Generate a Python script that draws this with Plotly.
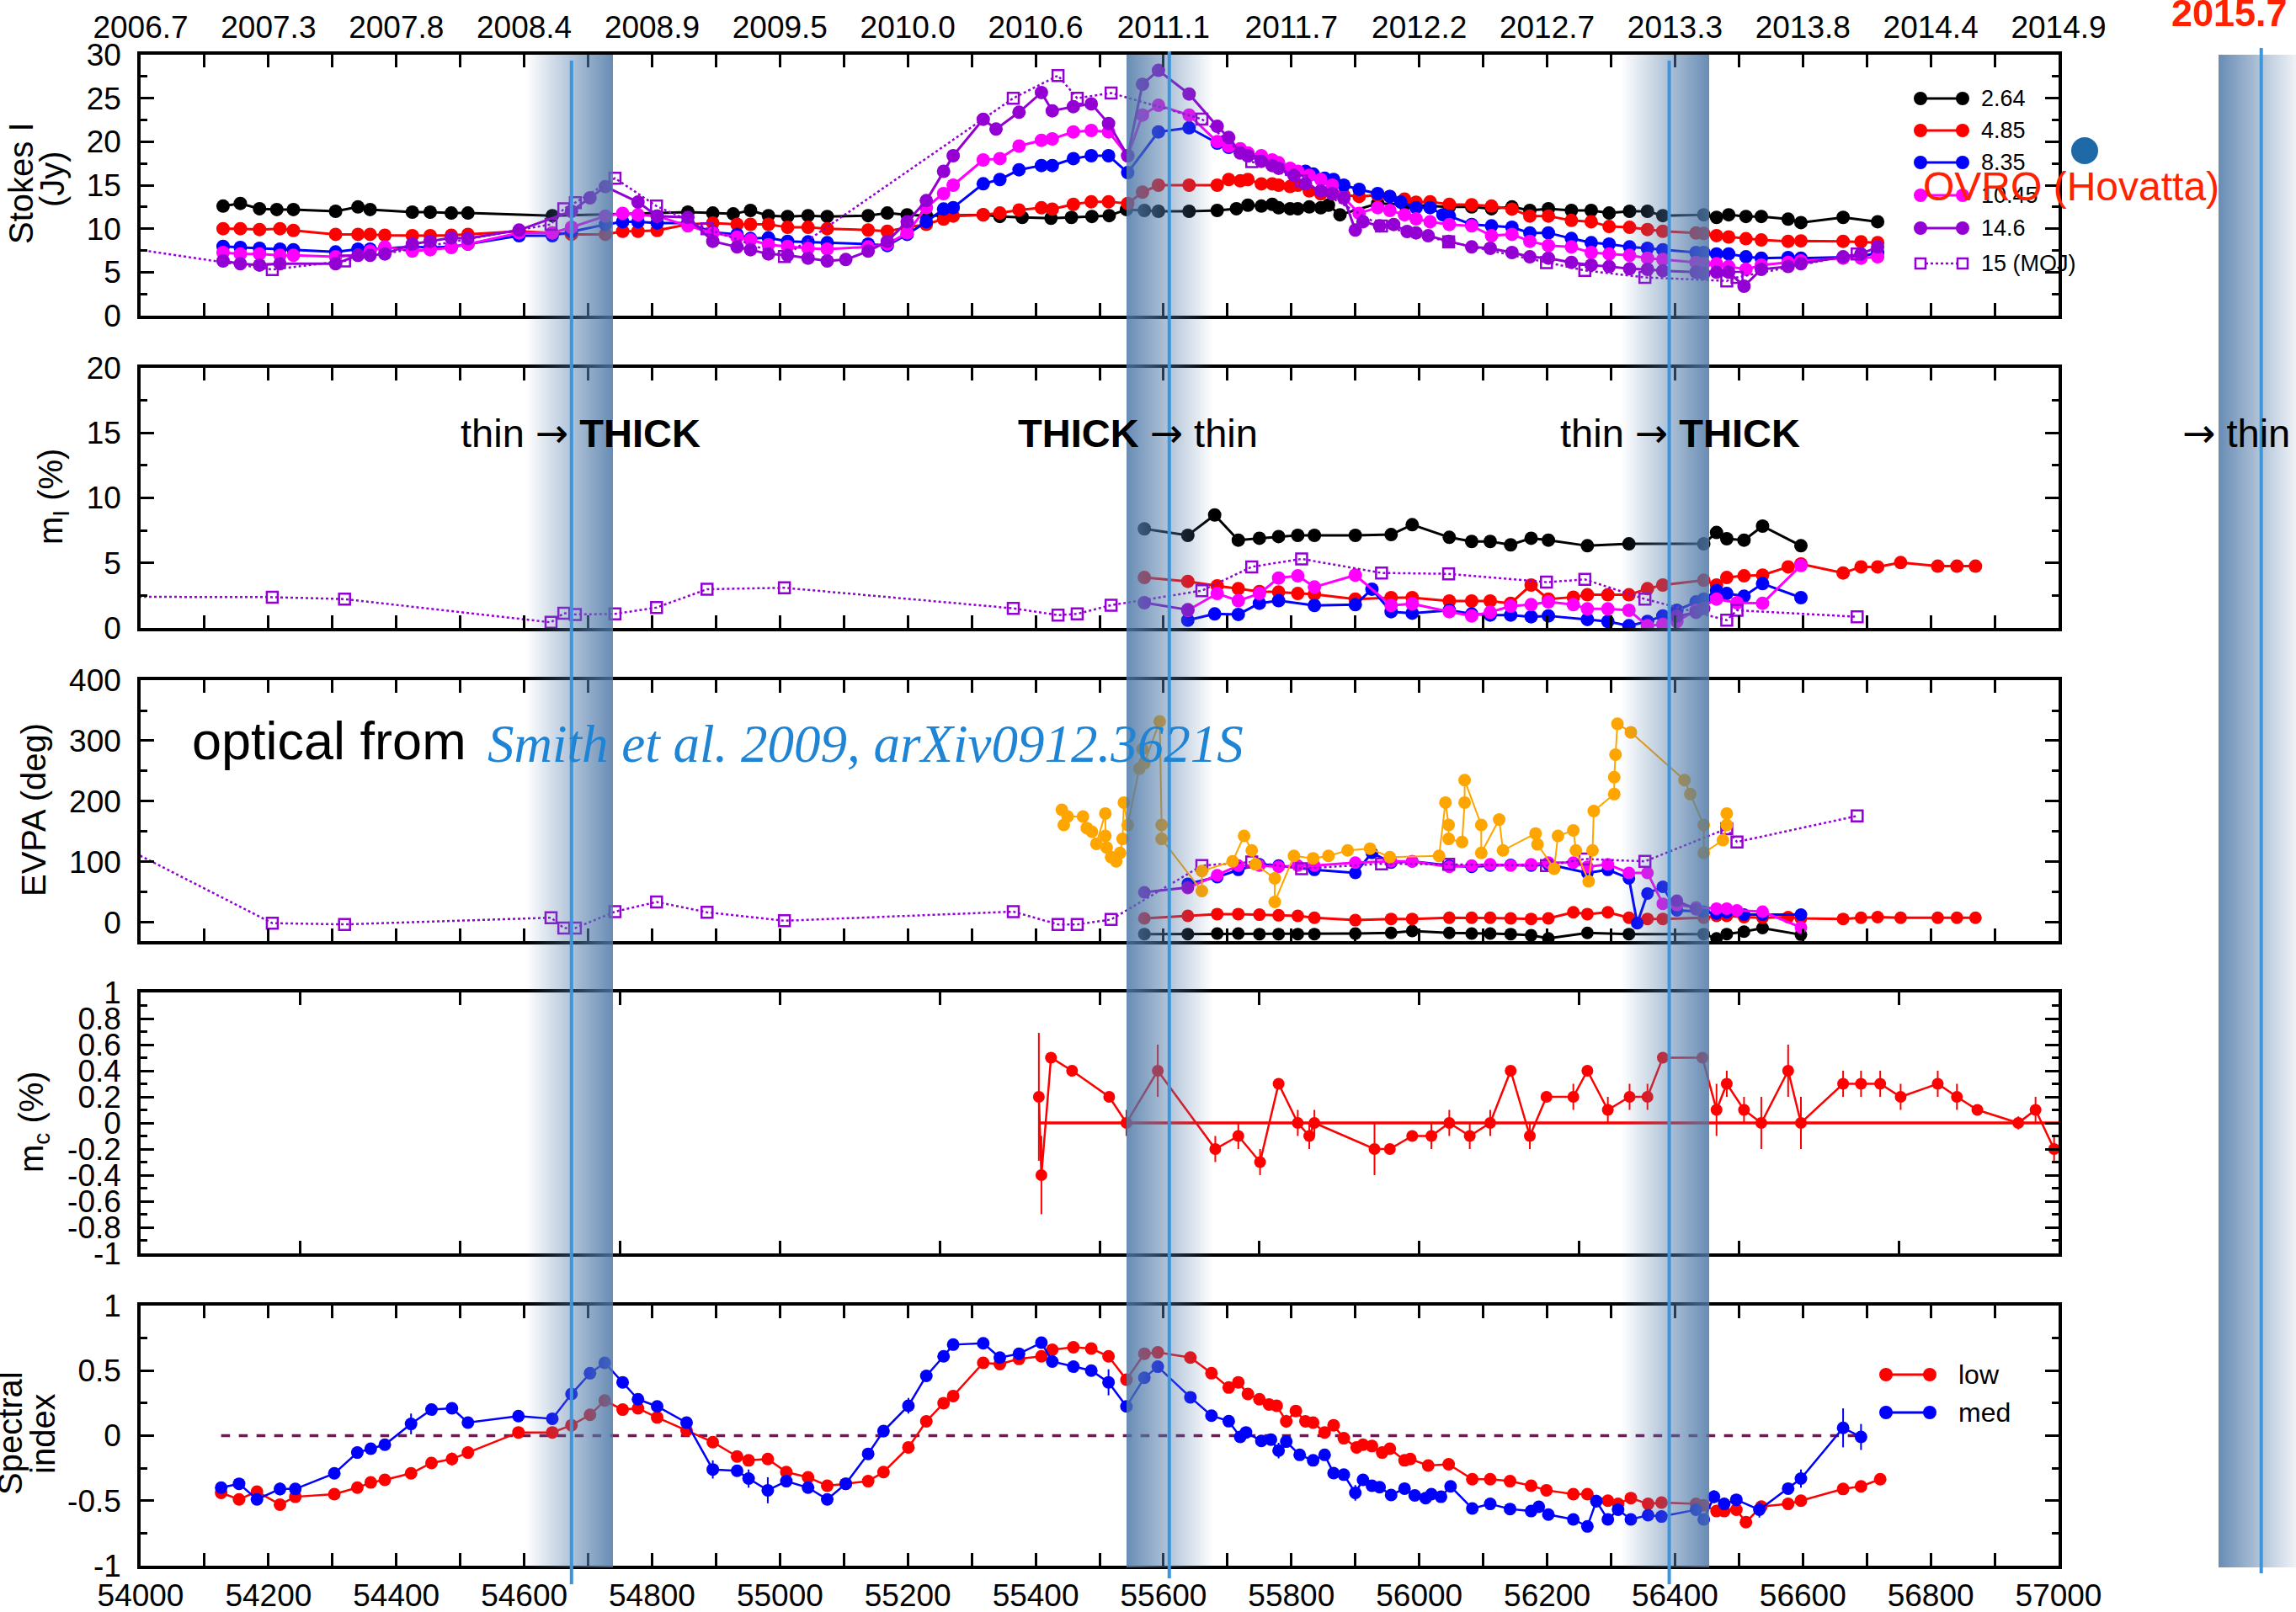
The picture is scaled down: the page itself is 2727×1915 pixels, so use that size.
import plotly.graph_objects as go

W, H = 2727, 1915
FONT = "Liberation Sans, Arial, Helvetica, sans-serif"

# ---------------- data ----------------
TOP_TICK_MJD = list(range(54000, 57001, 200))
TOP_TICK_YEARS = ["2006.7", "2007.3", "2007.8", "2008.4", "2008.9", "2009.5", "2010.0", "2010.6",
                  "2011.1", "2011.7", "2012.2", "2012.7", "2013.3", "2013.8", "2014.4", "2014.9"]
BOTTOM_TICK_LABELS = ["54000", "54200", "54400", "54600", "54800", "55000", "55200", "55400",
                      "55600", "55800", "56000", "56200", "56400", "56600", "56800", "57000"]
MC_TICK_MJD = list(range(54000, 57001, 250))

I_TICKS = [0, 5, 10, 15, 20, 25, 30]
M_TICKS = [0, 5, 10, 15, 20]
EVPA_TICKS = [0, 100, 200, 300, 400]
MC_TICKS = [-1, -0.8, -0.6, -0.4, -0.2, 0, 0.2, 0.4, 0.6, 0.8, 1]
MC_TICK_TEXT = ["-1", "-0.8", "-0.6", "-0.4", "-0.2", "0", "0.2", "0.4", "0.6", "0.8", "1"]
SI_TICKS = [-1, -0.5, 0, 0.5, 1]
SI_TICK_TEXT = ["-1", "-0.5", "0", "0.5", "1"]

# state-change epochs (MJD): band start, band end, dark side ; and marker lines
BANDS = [(54603, 54739, "right"), (55542, 55678, "left"), (56316, 56453, "right"), (57250, 57386, "left")]
BAND_LINES = [54674, 55609, 56391, 57317]

# Stokes I (Jy)
I_264 = [(54129, 12.6), (54156, 12.9), (54186, 12.3), (54213, 12.2), (54239, 12.2), (54305, 12.0), (54340, 12.5),
         (54359, 12.2), (54425, 11.9), (54453, 11.9), (54486, 11.8), (54512, 11.8), (54644, 11.5), (54856, 11.9),
         (54895, 11.8), (54927, 11.7), (54954, 12.1), (54982, 11.5), (55012, 11.4), (55044, 11.5), (55074, 11.4),
         (55138, 11.5), (55168, 11.8), (55199, 11.6), (55229, 11.5), (55256, 11.5), (55318, 11.6), (55344, 11.4),
         (55379, 11.3), (55424, 11.2), (55456, 11.3), (55488, 11.4), (55515, 11.5), (55542, 12.2), (55570, 12.1),
         (55592, 12.0), (55640, 12.0), (55684, 12.1), (55714, 12.3), (55732, 12.7), (55753, 12.6), (55770, 12.8),
         (55780, 12.4), (55798, 12.3), (55810, 12.3), (55828, 12.5), (55846, 12.4), (55858, 12.7), (55876, 11.6),
         (55935, 12.9), (55977, 12.8), (56017, 12.6), (56047, 12.5), (56082, 12.5), (56113, 12.3), (56145, 12.5),
         (56173, 12.1), (56202, 12.3), (56238, 12.1), (56269, 12.1), (56297, 11.8), (56329, 12.0), (56357, 12.0),
         (56381, 11.5), (56445, 11.6), (56465, 11.3), (56484, 11.6), (56511, 11.4), (56535, 11.4), (56577, 11.1),
         (56597, 10.7), (56663, 11.3), (56717, 10.8)]
I_485 = [(54129, 10.0), (54156, 10.0), (54186, 9.9), (54218, 10.0), (54239, 9.8), (54305, 9.35), (54340, 9.35),
         (54359, 9.35), (54382, 9.25), (54425, 9.2), (54453, 9.2), (54486, 9.25), (54512, 9.35), (54592, 9.7),
         (54644, 9.5), (54674, 9.35), (54727, 9.35), (54754, 9.7), (54778, 9.7), (54808, 9.8), (54856, 10.5),
         (54895, 10.65), (54933, 10.5), (54954, 10.5), (54982, 10.5), (55012, 10.15), (55044, 10.15), (55074, 10.0),
         (55138, 9.85), (55168, 9.7), (55199, 10.15), (55229, 10.5), (55256, 11.1), (55271, 11.45), (55318, 11.6),
         (55344, 11.8), (55374, 12.15), (55409, 12.4), (55426, 12.25), (55459, 12.8), (55487, 13.1), (55514, 13.1),
         (55544, 12.9), (55567, 14.2), (55592, 15.0), (55640, 15.0), (55684, 15.0), (55702, 15.65), (55720, 15.5),
         (55732, 15.65), (55753, 15.15), (55770, 15.15), (55780, 15.0), (55798, 14.85), (55810, 15.0), (55828, 14.35),
         (55846, 14.0), (55864, 14.0), (55882, 13.85), (55906, 13.7), (55935, 13.85), (55954, 13.7), (55977, 13.4),
         (55995, 13.05), (56017, 13.1), (56047, 12.8), (56082, 12.75), (56113, 12.6), (56145, 12.25), (56173, 11.45),
         (56202, 11.45), (56238, 10.95), (56269, 10.8), (56297, 10.25), (56329, 10.15), (56357, 9.9), (56381, 9.7),
         (56433, 9.5), (56445, 9.45), (56465, 9.2), (56484, 9.05), (56511, 8.85), (56535, 8.7), (56577, 8.55),
         (56597, 8.6), (56663, 8.55), (56691, 8.5), (56717, 8.4)]
I_835 = [(54129, 7.97), (54156, 7.84), (54186, 7.74), (54218, 7.65), (54239, 7.58), (54305, 7.32), (54340, 7.65),
         (54359, 7.65), (54382, 7.74), (54425, 7.9), (54453, 7.84), (54486, 7.9), (54512, 8.23), (54592, 9.19),
         (54644, 9.19), (54674, 9.68), (54727, 10.48), (54754, 10.8), (54778, 10.8), (54808, 10.65), (54856, 10.65),
         (54895, 9.58), (54933, 9.35), (54954, 8.87), (54982, 8.94), (55012, 8.55), (55044, 8.48), (55074, 8.39),
         (55138, 8.23), (55168, 8.06), (55199, 9.35), (55229, 10.8), (55256, 12.26), (55271, 12.42), (55318, 15.16),
         (55344, 15.65), (55374, 16.77), (55409, 17.26), (55426, 17.26), (55459, 18.06), (55487, 18.39), (55514, 18.39),
         (55544, 16.45), (55592, 21.13), (55640, 21.6), (55684, 19.84), (55702, 19.35), (55720, 18.87), (55732, 18.39),
         (55753, 17.9), (55770, 17.58), (55780, 17.26), (55798, 16.77), (55822, 16.6), (55834, 16.29), (55852, 15.8),
         (55866, 15.65), (55882, 15.0), (55906, 14.52), (55935, 14.03), (55954, 13.7), (55971, 13.06), (55995, 12.42),
         (56017, 12.42), (56037, 11.6), (56047, 11.45), (56082, 10.48), (56113, 10.32), (56145, 10.16), (56173, 9.52),
         (56202, 9.52), (56238, 8.87), (56269, 8.39), (56297, 8.23), (56329, 7.9), (56357, 7.74), (56381, 7.58),
         (56433, 7.26), (56445, 7.26), (56465, 7.1), (56484, 7.1), (56511, 6.77), (56535, 6.61), (56577, 6.68),
         (56597, 6.61), (56663, 6.68), (56691, 6.77), (56717, 7.26)]
I_1045 = [(54129, 7.26), (54156, 7.1), (54186, 7.1), (54218, 6.94), (54239, 6.94), (54305, 6.77), (54340, 6.94),
          (54359, 7.42), (54382, 7.9), (54425, 7.42), (54453, 7.58), (54486, 7.84), (54512, 8.23), (54592, 9.52),
          (54644, 9.52), (54674, 10.16), (54727, 11.45), (54754, 11.77), (54778, 11.6), (54808, 11.45), (54856, 10.32),
          (54895, 9.52), (54933, 9.03), (54954, 8.71), (54982, 8.16), (55012, 7.97), (55044, 7.74), (55074, 7.65),
          (55138, 7.9), (55168, 8.23), (55199, 9.52), (55229, 12.42), (55256, 14.03), (55271, 15.0), (55318, 17.9),
          (55344, 18.06), (55374, 19.5), (55409, 20.16), (55426, 20.32), (55459, 21.13), (55487, 21.29), (55514, 21.13),
          (55544, 18.39), (55567, 23.06), (55592, 24.19), (55640, 23.06), (55684, 20.0), (55702, 19.5), (55720, 19.19),
          (55732, 18.71), (55753, 18.39), (55770, 17.9), (55780, 17.58), (55798, 16.94), (55810, 16.6), (55828, 16.13),
          (55846, 15.65), (55864, 15.0), (55882, 13.55), (55906, 11.77), (55935, 12.42), (55954, 12.1), (55977, 11.6),
          (55995, 11.13), (56017, 10.8), (56047, 10.48), (56082, 10.32), (56113, 9.19), (56145, 9.35), (56173, 8.55),
          (56202, 8.06), (56238, 7.9), (56269, 7.26), (56297, 7.1), (56329, 6.94), (56357, 6.61), (56381, 6.45),
          (56433, 6.13), (56445, 5.97), (56465, 5.97), (56484, 5.65), (56511, 5.32), (56535, 5.81), (56577, 6.13),
          (56597, 6.29), (56663, 6.61), (56691, 6.61), (56717, 6.77)]
I_146 = [(54129, 6.29), (54156, 5.97), (54186, 5.81), (54218, 5.97), (54305, 5.97), (54340, 6.94), (54359, 6.94),
         (54382, 7.1), (54425, 8.23), (54453, 8.55), (54486, 8.94), (54512, 8.87), (54592, 9.84), (54674, 12.0),
         (54703, 13.55), (54727, 14.84), (54778, 13.06), (54808, 11.45), (54856, 11.29), (54895, 8.55), (54933, 7.9),
         (54954, 7.58), (54982, 7.1), (55012, 6.94), (55044, 6.61), (55074, 6.29), (55103, 6.45), (55138, 7.42),
         (55168, 8.55), (55199, 10.8), (55229, 13.23), (55256, 16.6), (55271, 18.39), (55318, 22.58), (55338, 21.45),
         (55374, 23.39), (55409, 25.65), (55426, 23.55), (55459, 24.03), (55487, 24.35), (55514, 22.1), (55544, 18.39),
         (55567, 26.6), (55592, 28.2), (55640, 25.48), (55684, 21.77), (55702, 20.48), (55720, 18.7), (55732, 18.39),
         (55753, 17.74), (55770, 17.26), (55780, 16.94), (55804, 16.13), (55822, 15.16), (55846, 14.35), (55864, 14.03),
         (55882, 13.55), (55900, 9.84), (55912, 10.8), (55938, 10.32), (55960, 10.48), (55981, 9.68), (55995, 9.52),
         (56014, 9.19), (56046, 8.55), (56082, 7.9), (56111, 7.74), (56145, 7.26), (56173, 6.77), (56202, 6.61),
         (56238, 6.13), (56269, 5.81), (56297, 5.65), (56329, 5.39), (56357, 5.32), (56381, 5.16), (56433, 5.0),
         (56445, 4.84), (56465, 5.0), (56484, 5.0), (56508, 3.39), (56535, 5.32), (56577, 5.65), (56597, 5.97),
         (56663, 6.77), (56691, 7.1), (56717, 7.9)]

# MOJAVE 15 GHz: epoch, I (Jy), m (%), EVPA (deg)
MOJ_MJD = [53950, 54206, 54319, 54642, 54662, 54680, 54742, 54807, 54886, 55007, 55365, 55435, 55465, 55518,
           55660, 55738, 55816, 55941, 56046, 56199, 56259, 56353, 56481, 56497, 56685]
MOJ_I = [8.1, 5.3, 6.3, 10.5, 12.3, 13.0, 15.8, 12.6, 10.0, 6.8, 25.0, 27.6, 25.0, 25.6,
         22.6, 17.7, 15.5, 10.3, 8.5, 6.1, 5.2, 4.4, 4.0, 4.4, 7.1]
MOJ_M = [2.4, 2.37, 2.22, 0.43, 1.14, 1.04, 1.08, 1.57, 2.98, 3.09, 1.51, 0.99, 1.08, 1.75,
         2.87, 4.7, 5.31, 4.23, 4.16, 3.52, 3.73, 2.22, 0.6, 1.36, 0.86]
MOJ_EVPA = [137, -1, -3, 8, -9, -9, 18, 34, 17, 3, 18, -3, -3, 5,
            94, 100, 89, 97, 96, 94, 105, 101, 155, 133, 176]

# fractional linear polarisation m_l (%)
M_264 = [(55570, 7.62), (55638, 7.12), (55680, 8.69), (55717, 6.75), (55750, 6.9), (55780, 7.03), (55810, 7.12),
         (55836, 7.12), (55900, 7.12), (55956, 7.18), (55989, 7.94), (56047, 6.97), (56082, 6.65), (56111, 6.65),
         (56143, 6.39), (56175, 6.9), (56202, 6.75), (56263, 6.32), (56328, 6.47), (56445, 6.47), (56465, 7.34),
         (56481, 6.86), (56508, 6.75), (56537, 7.83), (56597, 6.32)]
M_485 = [(55570, 3.88), (55638, 3.58), (55684, 3.24), (55717, 3.02), (55750, 2.8), (55780, 2.76), (55810, 2.65),
         (55836, 2.59), (55900, 2.22), (55956, 2.33), (55989, 2.33), (56047, 2.07), (56082, 2.07), (56111, 2.07),
         (56143, 1.9), (56175, 3.3), (56202, 2.22), (56241, 2.37), (56263, 2.55), (56295, 2.55), (56328, 2.55),
         (56357, 3.02), (56381, 3.3), (56445, 3.67), (56465, 3.3), (56481, 3.88), (56508, 4.01), (56537, 4.06),
         (56577, 4.7), (56597, 4.92), (56663, 4.23), (56691, 4.7), (56717, 4.7), (56753, 5.03), (56811, 4.75),
         (56841, 4.75), (56870, 4.75)]
M_835 = [(55638, 0.6), (55680, 1.08), (55717, 1.04), (55750, 1.9), (55780, 2.1), (55836, 1.73), (55900, 1.79),
         (55926, 2.98), (55956, 1.25), (55989, 1.14), (56047, 1.36), (56082, 1.08), (56111, 0.99), (56143, 0.99),
         (56175, 0.86), (56202, 0.93), (56263, 0.65), (56295, 0.5), (56328, 0.17), (56357, 0.5), (56381, 0.93),
         (56403, 1.36), (56433, 2.0), (56445, 2.22), (56465, 2.87), (56481, 2.65), (56508, 2.44), (56537, 3.41),
         (56597, 2.33)]
M_1045 = [(55638, 1.36), (55684, 2.65), (55717, 2.1), (55750, 2.65), (55780, 3.84), (55810, 4.01), (55836, 3.15),
          (55900, 4.06), (55956, 1.73), (55989, 1.86), (56047, 1.25), (56082, 0.93), (56111, 1.21), (56143, 1.68),
          (56175, 1.79), (56202, 2.0), (56241, 1.79), (56263, 1.47), (56295, 1.47), (56328, 1.36), (56357, 0.17),
          (56381, 0.28), (56403, 0.5), (56433, 1.36), (56465, 2.22), (56497, 1.94), (56537, 1.9), (56597, 4.8)]
M_146_A = [(55570, 1.94), (55638, 1.4)]
M_146_B = [(56403, 0.9), (56433, 1.2), (56445, 1.5)]

# EVPA (deg)
E_264 = [(55570, -19), (55638, -19), (55684, -18), (55717, -18), (55750, -19), (55780, -19), (55810, -19),
         (55836, -19), (55900, -18), (55956, -17), (55989, -14), (56047, -17), (56082, -18), (56111, -18),
         (56143, -19), (56175, -21), (56202, -26), (56263, -17), (56328, -19), (56445, -19), (56465, -26),
         (56481, -19), (56508, -15), (56537, -9), (56597, -20)]
E_485 = [(55570, 7), (55638, 11), (55684, 14), (55717, 14), (55750, 13), (55780, 12), (55810, 11), (55836, 8),
         (55900, 4), (55956, 6), (55989, 6), (56047, 8), (56082, 8), (56111, 8), (56143, 7), (56175, 6), (56202, 7),
         (56241, 17), (56263, 14), (56295, 17), (56328, 8), (56357, 6), (56381, 6), (56445, 8), (56465, 11),
         (56481, 11), (56508, 9), (56537, 8), (56577, 9), (56597, 7), (56663, 6), (56691, 8), (56717, 9), (56753, 8),
         (56811, 8), (56841, 8), (56870, 8)]
E_835 = [(55638, 64), (55684, 75), (55717, 87), (55750, 96), (55780, 94), (55836, 87), (55900, 82), (55926, 115),
         (55956, 99), (55989, 101), (56047, 94), (56082, 92), (56111, 94), (56143, 95), (56175, 94), (56202, 96),
         (56263, 82), (56295, 87), (56328, 73), (56341, -1), (56357, 48), (56381, 59), (56403, 20), (56445, 18),
         (56465, 15), (56481, 17), (56508, 13), (56537, 13), (56597, 13)]
E_1045 = [(55638, 57), (55684, 78), (55717, 94), (55750, 94), (55780, 92), (55810, 94), (55836, 94), (55900, 99),
          (55956, 101), (55989, 101), (56047, 92), (56082, 94), (56111, 96), (56143, 94), (56175, 96), (56202, 99),
          (56241, 99), (56263, 92), (56295, 96), (56328, 82), (56357, 82), (56381, 31), (56403, 29), (56433, 25),
          (56465, 23), (56481, 23), (56497, 20), (56537, 18), (56597, -8)]
E_146_A = [(55570, 50), (55638, 58)]
E_146_B = [(56403, 36), (56433, 22)]
E_OPT = [(55441, 186), (55444, 161), (55450, 175), (55474, 175), (55480, 156), (55488, 150), (55495, 130),
         (55509, 180), (55509, 143), (55511, 124), (55518, 108), (55526, 101), (55532, 115), (55536, 138),
         (55538, 198), (55544, 161), (55562, 254), (55567, 286), (55570, 263), (55594, 332), (55597, 161),
         (55597, 138), (55660, 52), (55660, 85), (55708, 101), (55726, 143), (55738, 119), (55744, 96), (55774, 73),
         (55774, 34), (55804, 110), (55834, 106), (55858, 110), (55888, 119), (55923, 122), (55954, 108),
         (56031, 110), (56041, 198), (56046, 161), (56046, 138), (56067, 133), (56071, 198), (56071, 235),
         (56097, 161), (56097, 115), (56125, 170), (56131, 119), (56182, 147), (56185, 129), (56211, 89),
         (56217, 143), (56241, 152), (56245, 119), (56265, 68), (56271, 119), (56273, 184), (56305, 212),
         (56305, 240), (56307, 277), (56310, 328), (56331, 314), (56415, 235), (56424, 212), (56445, 161),
         (56445, 115), (56475, 136), (56481, 161), (56481, 180)]

# circular polarisation m_c (%): epoch, value, error
MC = [(55405, 0.2, 0.49), (55409, -0.4, 0.3), (55424, 0.5, 0.0), (55457, 0.4, 0.0), (55515, 0.2, 0.0),
      (55542, 0.0, 0.1), (55591, 0.4, 0.2), (55681, -0.2, 0.1), (55717, -0.1, 0.1), (55751, -0.3, 0.1),
      (55780, 0.3, 0.0), (55810, 0.0, 0.1), (55828, -0.1, 0.1), (55836, 0.0, 0.1), (55930, -0.2, 0.2),
      (55954, -0.2, 0.0), (55989, -0.1, 0.0), (56019, -0.1, 0.1), (56047, 0.0, 0.1), (56079, -0.1, 0.1),
      (56111, 0.0, 0.1), (56143, 0.4, 0.0), (56173, -0.1, 0.1), (56199, 0.2, 0.0), (56241, 0.2, 0.1),
      (56263, 0.4, 0.0), (56295, 0.1, 0.1), (56329, 0.2, 0.1), (56357, 0.2, 0.1), (56381, 0.5, 0.0),
      (56443, 0.5, 0.0), (56465, 0.1, 0.2), (56481, 0.3, 0.1), (56508, 0.1, 0.1), (56535, 0.0, 0.2),
      (56577, 0.4, 0.2), (56597, 0.0, 0.2), (56663, 0.3, 0.1), (56691, 0.3, 0.1), (56721, 0.3, 0.1),
      (56753, 0.2, 0.1), (56811, 0.3, 0.1), (56841, 0.2, 0.1), (56873, 0.1, 0.0), (56937, 0.0, 0.05),
      (56964, 0.1, 0.1), (56993, -0.2, 0.1)]
MC_ZERO_X = [55405, 57000]

# spectral index: epoch, value, error
SI_LOW = [(54126, -0.44, 0.02), (54154, -0.49, 0.02), (54182, -0.43, 0.02), (54218, -0.53, 0.03), (54242, -0.47, 0.02),
          (54303, -0.45, 0.02), (54339, -0.40, 0.02), (54360, -0.36, 0.02), (54382, -0.34, 0.02), (54423, -0.29, 0.02),
          (54455, -0.21, 0.04), (54487, -0.18, 0.05), (54512, -0.13, 0.02), (54591, 0.025, 0.02), (54644, 0.025, 0.02),
          (54674, 0.08, 0.02), (54703, 0.16, 0.02), (54726, 0.27, 0.02), (54754, 0.20, 0.02), (54778, 0.21, 0.02),
          (54808, 0.14, 0.02), (54854, 0.04, 0.02), (54895, -0.05, 0.02), (54933, -0.16, 0.02), (54951, -0.19, 0.02),
          (54981, -0.18, 0.02), (55010, -0.28, 0.02), (55044, -0.32, 0.02), (55074, -0.385, 0.02), (55103, -0.37, 0.02),
          (55138, -0.35, 0.02), (55162, -0.28, 0.02), (55201, -0.09, 0.02), (55229, 0.11, 0.04), (55256, 0.25, 0.02),
          (55271, 0.305, 0.04), (55318, 0.56, 0.02), (55344, 0.55, 0.02), (55374, 0.59, 0.02), (55409, 0.61, 0.02),
          (55426, 0.66, 0.02), (55459, 0.68, 0.02), (55487, 0.67, 0.02), (55514, 0.61, 0.02), (55542, 0.43, 0.02),
          (55570, 0.63, 0.02), (55591, 0.64, 0.02), (55642, 0.60, 0.03), (55675, 0.48, 0.02), (55702, 0.37, 0.02),
          (55717, 0.41, 0.02), (55732, 0.32, 0.02), (55750, 0.28, 0.02), (55765, 0.24, 0.02), (55777, 0.23, 0.02),
          (55792, 0.11, 0.05), (55807, 0.19, 0.02), (55822, 0.11, 0.04), (55834, 0.10, 0.02), (55852, 0.025, 0.02),
          (55866, 0.08, 0.04), (55882, -0.02, 0.02), (55902, -0.09, 0.03), (55912, -0.07, 0.02), (55926, -0.08, 0.02),
          (55942, -0.13, 0.02), (55954, -0.10, 0.02), (55977, -0.19, 0.02), (55986, -0.18, 0.02), (56014, -0.23, 0.02),
          (56046, -0.22, 0.02), (56083, -0.335, 0.02), (56111, -0.335, 0.02), (56142, -0.35, 0.02), (56175, -0.385, 0.02),
          (56199, -0.42, 0.02), (56241, -0.45, 0.02), (56263, -0.45, 0.02), (56295, -0.50, 0.02), (56311, -0.525, 0.02),
          (56331, -0.48, 0.02), (56358, -0.525, 0.02), (56379, -0.515, 0.02), (56433, -0.525, 0.02), (56445, -0.535, 0.02),
          (56465, -0.58, 0.02), (56477, -0.58, 0.02), (56496, -0.57, 0.02), (56511, -0.665, 0.03), (56535, -0.545, 0.02),
          (56577, -0.525, 0.02), (56597, -0.50, 0.02), (56663, -0.41, 0.02), (56691, -0.39, 0.02), (56721, -0.335, 0.03)]
SI_MED = [(54126, -0.40, 0.03), (54154, -0.37, 0.02), (54182, -0.49, 0.02), (54218, -0.41, 0.05), (54242, -0.41, 0.03),
          (54303, -0.29, 0.02), (54339, -0.13, 0.04), (54360, -0.10, 0.04), (54382, -0.07, 0.02), (54423, 0.09, 0.08),
          (54455, 0.20, 0.03), (54487, 0.21, 0.03), (54512, 0.10, 0.02), (54591, 0.15, 0.02), (54644, 0.13, 0.02),
          (54674, 0.32, 0.02), (54703, 0.48, 0.03), (54726, 0.56, 0.02), (54754, 0.41, 0.02), (54778, 0.28, 0.02),
          (54808, 0.225, 0.02), (54854, 0.10, 0.02), (54895, -0.26, 0.07), (54933, -0.27, 0.02), (54951, -0.33, 0.07),
          (54981, -0.42, 0.10), (55010, -0.35, 0.02), (55044, -0.40, 0.02), (55074, -0.49, 0.02), (55103, -0.37, 0.02),
          (55138, -0.14, 0.02), (55162, 0.035, 0.03), (55201, 0.23, 0.06), (55229, 0.46, 0.02), (55256, 0.61, 0.02),
          (55271, 0.70, 0.02), (55318, 0.71, 0.02), (55344, 0.60, 0.02), (55374, 0.63, 0.02), (55409, 0.715, 0.02),
          (55426, 0.57, 0.02), (55459, 0.53, 0.02), (55487, 0.50, 0.03), (55514, 0.41, 0.10), (55542, 0.225, 0.03),
          (55570, 0.445, 0.02), (55591, 0.53, 0.02), (55642, 0.295, 0.02), (55675, 0.154, 0.02), (55702, 0.111, 0.02),
          (55720, -0.01, 0.02), (55729, 0.025, 0.02), (55753, -0.04, 0.02), (55768, -0.03, 0.02), (55780, -0.115, 0.06),
          (55792, -0.046, 0.02), (55813, -0.148, 0.03), (55834, -0.19, 0.02), (55852, -0.148, 0.02), (55866, -0.288, 0.03),
          (55882, -0.30, 0.02), (55900, -0.44, 0.06), (55912, -0.34, 0.02), (55926, -0.385, 0.02), (55938, -0.396, 0.02),
          (55956, -0.456, 0.02), (55977, -0.407, 0.02), (55993, -0.46, 0.02), (56010, -0.48, 0.02), (56019, -0.45, 0.02),
          (56034, -0.47, 0.02), (56049, -0.39, 0.02), (56083, -0.56, 0.02), (56111, -0.525, 0.02), (56142, -0.564, 0.02),
          (56175, -0.58, 0.02), (56187, -0.547, 0.02), (56202, -0.607, 0.02), (56241, -0.644, 0.02), (56263, -0.698, 0.02),
          (56277, -0.504, 0.05), (56295, -0.644, 0.02), (56311, -0.57, 0.02), (56331, -0.644, 0.02), (56358, -0.612, 0.02),
          (56379, -0.622, 0.02), (56433, -0.57, 0.02), (56445, -0.644, 0.02), (56461, -0.47, 0.05), (56477, -0.525, 0.02),
          (56496, -0.493, 0.02), (56532, -0.57, 0.06), (56577, -0.407, 0.03), (56597, -0.33, 0.07), (56663, 0.06, 0.15),
          (56691, -0.01, 0.10)]
SI_ZERO_X = [54126, 56691]

LEGEND_TOP = ["2.64", "4.85", "8.35", "10.45", "14.6", "15 (MOJ)"]
LEGEND_BOTTOM = ["low", "med"]

# ---------------- styling / geometry ----------------
BLACK, RED, BLUE, MAGENTA, PURPLE, ORANGE = "#000000", "#ff0000", "#0000ff", "#ff00ff", "#9400d3", "#ffa500"
BAND_RGB = (78, 120, 167)
BAND_LINE = "#3d96dc"
X0PX, X1PX = 167, 2445
PANELS_PX = [(65, 375), (437, 746), (808, 1118), (1179, 1489), (1551, 1860)]
MS = 16  # marker size


def px_x(p):
    return p / W


def px_y(p):
    return 1 - p / H


def mjd_px(m):
    return X0PX + (m - 54000) * (X1PX - X0PX) / 3000.0


def col(pairs, i):
    return [p[i] for p in pairs]


fig = go.Figure()


def add(pairs, color, panel, size=MS, width=3, err=None, mode="lines+markers"):
    suf = "" if panel == 1 else str(panel)
    kw = {}
    if err is not None:
        kw["error_y"] = dict(type="data", array=err, color=color, thickness=2, width=0)
    fig.add_trace(go.Scatter(x=col(pairs, 0), y=col(pairs, 1), mode=mode,
                             line=dict(color=color, width=width),
                             marker=dict(color=color, size=size, symbol="circle", line=dict(width=0)),
                             xaxis="x" + suf, yaxis="y" + suf, hoverinfo="skip", showlegend=False, **kw))


def add_moj(yvals, panel):
    suf = "" if panel == 1 else str(panel)
    fig.add_trace(go.Scatter(x=MOJ_MJD, y=yvals, mode="lines+markers",
                             line=dict(color=PURPLE, width=2.5, dash="dot"),
                             marker=dict(color=PURPLE, size=13, symbol="square-open", line=dict(width=2.5, color=PURPLE)),
                             xaxis="x" + suf, yaxis="y" + suf, hoverinfo="skip", showlegend=False))


# panel 1
for series, c in [(I_264, BLACK), (I_485, RED), (I_835, BLUE), (I_1045, MAGENTA), (I_146, PURPLE)]:
    add(series, c, 1)
add_moj(MOJ_I, 1)
# panel 2
for series, c in [(M_264, BLACK), (M_485, RED), (M_835, BLUE), (M_1045, MAGENTA), (M_146_A, PURPLE), (M_146_B, PURPLE)]:
    add(series, c, 2)
add_moj(MOJ_M, 2)
# panel 3
for series, c in [(E_264, BLACK), (E_485, RED), (E_835, BLUE), (E_1045, MAGENTA), (E_146_A, PURPLE), (E_146_B, PURPLE)]:
    add(series, c, 3, size=15)
add_moj(MOJ_EVPA, 3)
add(E_OPT, ORANGE, 3, size=15, width=2)
# panel 4
fig.add_trace(go.Scatter(x=MC_ZERO_X, y=[0, 0], mode="lines", line=dict(color=RED, width=3.5),
                         xaxis="x4", yaxis="y4", hoverinfo="skip", showlegend=False))
add([(p[0], p[1]) for p in MC], RED, 4, size=14, width=2.5, err=col(MC, 2))
# panel 5
fig.add_trace(go.Scatter(x=SI_ZERO_X, y=[0, 0], mode="lines", line=dict(color="#6a1b52", width=3.5, dash="dash"),
                         xaxis="x5", yaxis="y5", hoverinfo="skip", showlegend=False))
add([(p[0], p[1]) for p in SI_LOW], RED, 5, size=15, width=2.5, err=col(SI_LOW, 2))
add([(p[0], p[1]) for p in SI_MED], BLUE, 5, size=15, width=2.5, err=col(SI_MED, 2))

# ---------------- axes ----------------
tickfont = dict(family=FONT, size=37, color="black")
base_x = dict(range=[54000, 57000], showgrid=False, zeroline=False, showline=True, linecolor="black",
              linewidth=3.5, mirror="allticks", ticks="inside", ticklen=15, tickwidth=3, tickcolor="black",
              tickfont=tickfont, domain=[px_x(X0PX), px_x(X1PX)], fixedrange=True, automargin=False)
minor_x = dict(ticks="inside", dtick=100, tick0=54000, ticklen=15, tickwidth=3, tickcolor="black")
base_y = dict(showgrid=False, zeroline=False, showline=True, linecolor="black", linewidth=3.5,
              mirror="allticks", ticks="inside", ticklen=16, tickwidth=3, tickcolor="black",
              tickfont=tickfont, ticklabelstandoff=12, fixedrange=True, automargin=False)

layout_axes = {}
for i, (top, bot) in enumerate(PANELS_PX, start=1):
    suf = "" if i == 1 else str(i)
    xa = dict(base_x, anchor="y" + suf)
    if i > 1:
        xa["matches"] = "x"
    if i == 4:
        xa.update(tickmode="array", tickvals=MC_TICK_MJD, showticklabels=False)
    else:
        xa.update(tickmode="array", tickvals=TOP_TICK_MJD, minor=minor_x)
        if i == 1:
            xa.update(side="top", ticktext=TOP_TICK_YEARS, ticklabelstandoff=1)
        elif i == 5:
            xa.update(ticktext=BOTTOM_TICK_LABELS, ticklabelstandoff=0)
        else:
            xa.update(showticklabels=False)
    layout_axes["xaxis" + suf] = xa
    ya = dict(base_y, anchor="x" + suf, domain=[px_y(bot), px_y(top)])
    layout_axes["yaxis" + suf] = ya

layout_axes["yaxis"].update(range=[0, 30], tickmode="array", tickvals=I_TICKS,
                            minor=dict(ticks="inside", dtick=2.5, tick0=0, ticklen=8, tickwidth=3, tickcolor="black"))
layout_axes["yaxis2"].update(range=[0, 20], tickmode="array", tickvals=M_TICKS,
                             minor=dict(ticks="inside", dtick=2.5, tick0=0, ticklen=8, tickwidth=3, tickcolor="black"))
layout_axes["yaxis3"].update(range=[-30.6, 400], tickmode="array", tickvals=EVPA_TICKS,
                             minor=dict(ticks="inside", dtick=50, tick0=0, ticklen=8, tickwidth=3, tickcolor="black"))
layout_axes["yaxis4"].update(range=[-1, 1], tickmode="array", tickvals=MC_TICKS, ticktext=MC_TICK_TEXT,
                             minor=dict(ticks="inside", dtick=0.1, tick0=0, ticklen=8, tickwidth=3, tickcolor="black"))
layout_axes["yaxis5"].update(range=[-1, 1], tickmode="array", tickvals=SI_TICKS, ticktext=SI_TICK_TEXT,
                             minor=dict(ticks="inside", dtick=0.25, tick0=0, ticklen=8, tickwidth=3, tickcolor="black"))

# ---------------- shapes: gradient bands ----------------
shapes = []
band_top, band_bot = 65, 1862
for (a, b, dark) in BANDS:
    pa, pb = int(round(mjd_px(a))), int(round(mjd_px(b)))
    for p in range(pa, min(pb, W)):
        t = (p + 0.5 - pa) / float(pb - pa)
        alpha = 0.85 * (t if dark == "right" else (1 - t))
        shapes.append(dict(type="rect", xref="paper", yref="paper", x0=px_x(p), x1=px_x(p + 1),
                           y0=px_y(band_bot), y1=px_y(band_top), line=dict(width=0),
                           fillcolor="rgba(%d,%d,%d,%.3f)" % (BAND_RGB + (alpha,)), layer="above"))
line_ext = [(72, 1882), (61, 1875), (72, 1882), (57, 1869)]
for m, (t0, t1) in zip(BAND_LINES, line_ext):
    xp = px_x(mjd_px(m))
    shapes.append(dict(type="line", xref="paper", yref="paper", x0=xp, x1=xp, y0=px_y(t1), y1=px_y(t0),
                       line=dict(color=BAND_LINE, width=4), layer="above"))

# legend samples (top panel)
annotations = []
leg_colors = [BLACK, RED, BLUE, MAGENTA, PURPLE, PURPLE]
rows = [117, 155, 193, 232, 271, 313]
LX0, LX1, LTX = 2281, 2331, 2351
for lab, c, ry in zip(LEGEND_TOP, leg_colors, rows):
    moj = lab.startswith("15")
    shapes.append(dict(type="line", xref="paper", yref="paper", x0=px_x(LX0), x1=px_x(LX1), y0=px_y(ry), y1=px_y(ry),
                       line=dict(color=c, width=3 if not moj else 2.5, dash="dot" if moj else "solid")))
    for cx in (LX0, LX1):
        if moj:
            shapes.append(dict(type="rect", xref="paper", yref="paper", x0=px_x(cx - 6), x1=px_x(cx + 6),
                               y0=px_y(ry + 6), y1=px_y(ry - 6), line=dict(color=c, width=2.5), fillcolor="white"))
        else:
            shapes.append(dict(type="circle", xref="paper", yref="paper", x0=px_x(cx - 8), x1=px_x(cx + 8),
                               y0=px_y(ry + 8), y1=px_y(ry - 8), line=dict(width=0), fillcolor=c))
    annotations.append(dict(text=lab, x=px_x(LTX), y=px_y(ry), xref="paper", yref="paper", xanchor="left",
                            yanchor="middle", showarrow=False, font=dict(family=FONT, size=27, color="black")))
# legend samples (bottom panel)
BX0, BX1, BTX = 2240, 2292, 2324
for lab, c, ry in zip(LEGEND_BOTTOM, [RED, BLUE], [1633, 1678]):
    shapes.append(dict(type="line", xref="paper", yref="paper", x0=px_x(BX0), x1=px_x(BX1), y0=px_y(ry), y1=px_y(ry),
                       line=dict(color=c, width=3)))
    for cx in (BX0, BX1):
        shapes.append(dict(type="circle", xref="paper", yref="paper", x0=px_x(cx - 8), x1=px_x(cx + 8),
                           y0=px_y(ry + 8), y1=px_y(ry - 8), line=dict(width=0), fillcolor=c))
    annotations.append(dict(text=lab, x=px_x(BTX), y=px_y(ry), xref="paper", yref="paper", xanchor="left",
                            yanchor="middle", showarrow=False, font=dict(family=FONT, size=32, color="black")))

# OVRO dot
shapes.append(dict(type="circle", xref="paper", yref="paper", x0=px_x(2460), x1=px_x(2492), y0=px_y(195), y1=px_y(163),
                   line=dict(width=0), fillcolor="#1e6aa8"))


def ann(text, xp, yp, size, color="black", xanchor="left", yanchor="middle", angle=0, family=FONT):
    annotations.append(dict(text=text, x=px_x(xp), y=px_y(yp), xref="paper", yref="paper", xanchor=xanchor,
                            yanchor=yanchor, showarrow=False, textangle=angle,
                            font=dict(family=family, size=size, color=color)))


# y-axis titles
ann("Stokes I", 25, 218, 40, xanchor="center", angle=-90)
ann("(Jy)", 62, 213, 40, xanchor="center", angle=-90)
ann("m<sub>I</sub> (%)", 63, 590, 40, xanchor="center", angle=-90)
ann("EVPA (deg)", 40, 962, 40, xanchor="center", angle=-90)
ann("m<sub>c</sub> (%)", 40, 1333, 40, xanchor="center", angle=-90)
ann("Spectral", 12, 1703, 40, xanchor="center", angle=-90)
ann("index", 51, 1703, 40, xanchor="center", angle=-90)

# state labels
ARROW = "<span style='font-family:DejaVu Sans'>→</span>"
ann("thin " + ARROW + " <b>THICK</b>", 545, 514, 47)
ann("<b>THICK</b> " + ARROW + " thin", 1207, 514, 47)
ann("thin " + ARROW + " <b>THICK</b>", 1851, 514, 47)
ann(ARROW + " thin", 2590, 514, 47)

ann("optical from", 226, 880, 63)
ann("<i>Smith et al. 2009, arXiv0912.3621S</i>", 577, 884, 63, color="#1f84d4",
    family="Liberation Serif, Times New Roman, serif")
ann("OVRO (Hovatta)", 2282, 222, 48, color="#ff2200")
ann("<b>2015.7</b>", 2577, 43, 45, color="#ff2200", yanchor="bottom")

fig.update_layout(width=W, height=H, margin=dict(l=0, r=0, t=0, b=0, pad=0, autoexpand=False),
                  paper_bgcolor="white", plot_bgcolor="rgba(0,0,0,0)", showlegend=False,
                  shapes=shapes, annotations=annotations, hovermode=False, **layout_axes)

fig.write_html("out.html")
